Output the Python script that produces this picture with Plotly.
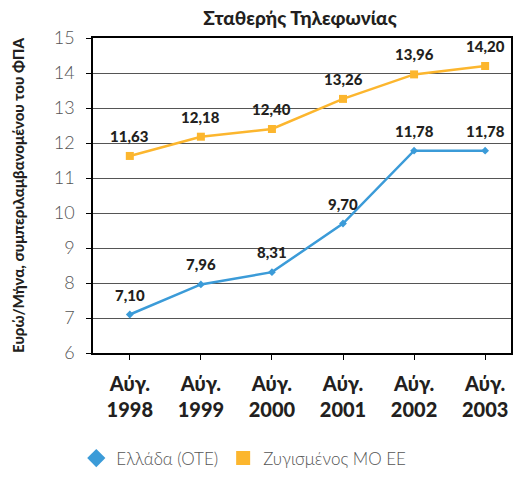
import plotly.graph_objects as go

categories = ["Αύγ.<br>1998", "Αύγ.<br>1999", "Αύγ.<br>2000", "Αύγ.<br>2001", "Αύγ.<br>2002", "Αύγ.<br>2003"]
greece = [7.10, 7.96, 8.31, 9.70, 11.78, 11.78]
eu = [11.63, 12.18, 12.40, 13.26, 13.96, 14.20]
greece_name = "Ελλάδα (ΟΤΕ)"
eu_name = "Ζυγισμένος ΜΟ ΕΕ"

BLUE = "#3B9BD8"
ORANGE = "#FCB62E"
TXT = "#231F20"

def fmt(v):
    return f"{v:.2f}".replace(".", ",")

fig = go.Figure()
fig.add_trace(go.Scatter(x=categories, y=eu, mode="lines+markers",
                         line=dict(color=ORANGE, width=2.5),
                         marker=dict(symbol="square", size=8, color=ORANGE),
                         showlegend=False))
fig.add_trace(go.Scatter(x=categories, y=greece, mode="lines+markers",
                         line=dict(color=BLUE, width=2.5),
                         marker=dict(symbol="diamond", size=6, color=BLUE),
                         showlegend=False))
fig.add_trace(go.Scatter(x=[None], y=[None], mode="markers", name=greece_name,
                         marker=dict(symbol="diamond", size=14, color=BLUE)))
fig.add_trace(go.Scatter(x=[None], y=[None], mode="markers", name=eu_name,
                         marker=dict(symbol="square", size=14, color=ORANGE)))

for series in (eu, greece):
    for c, v in zip(categories, series):
        fig.add_annotation(x=c, y=v, text=fmt(v), showarrow=False, yshift=20,
                           font=dict(family="Lato", size=15, color=TXT, weight=900))

fig.update_layout(
    width=507, height=470,
    margin=dict(l=85, r=2, t=30, b=125),
    paper_bgcolor="white", plot_bgcolor="white",
    title=dict(text="Σταθερής Τηλεφωνίας", x=0.576, xanchor="center", y=0.992, yanchor="top",
               pad=dict(t=0, b=0),
               font=dict(family="Lato", size=19, color=TXT, weight=900)),
    xaxis=dict(showline=True, linecolor="black", linewidth=1.5, mirror=True,
               range=[-0.518, 5.364],
               ticks="outside", ticklen=5, tickcolor="black", ticklabelstandoff=7,
               tickfont=dict(family="Lato", size=20, color=TXT, weight=900),
               showgrid=False, fixedrange=True),
    yaxis=dict(range=[6, 15], dtick=1, showline=True, linecolor="black", linewidth=1.5, mirror=True,
               ticks="outside", ticklen=5, tickcolor="black", ticklabelstandoff=8,
               gridcolor="#555555", gridwidth=1.2,
               tickfont=dict(family="Lato", size=18, color="#555555", weight=300),
               title=dict(text="Ευρώ/Μήνα, συμπεριλαμβανομένου του ΦΠΑ", standoff=26,
                          font=dict(family="Lato", size=15, color=TXT, weight=900))),
    legend=dict(orientation="h", x=-0.04, xanchor="left", y=-0.392, yanchor="bottom",
                font=dict(family="Lato", size=17, color="#555555", weight=300),
                itemwidth=30, tracegroupgap=0),
)

fig.write_html("out.html")
